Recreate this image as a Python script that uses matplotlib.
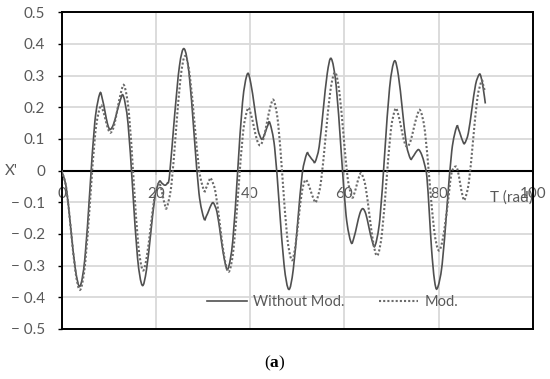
import matplotlib
matplotlib.use("Agg")
import matplotlib.pyplot as plt
from matplotlib.path import Path
from matplotlib.patches import PathPatch
from matplotlib.lines import Line2D

# "Without Mod." curve
t_plain = [0, 0.98, 1.95, 2.93, 3.9, 4.95, 6.0, 7.05, 8.1, 8.65, 9.2, 9.75, 10.3,
           11.0, 11.7, 12.4, 13.1, 14.1, 15.1, 16.1, 17.1, 18.0, 18.9, 19.8, 20.7,
           21.3, 21.9, 22.4, 22.9, 23.95, 25.0, 26.0, 27.05, 28.1, 29.15, 30.2,
           30.7, 31.2, 31.7, 32.2, 32.98, 33.75, 34.53, 35.3, 36.33, 37.35, 38.38,
           39.4, 40.15, 40.9, 41.65, 42.4, 42.85, 43.3, 43.75, 44.2, 45.2, 46.2,
           47.2, 48.2, 49.15, 50.1, 51.05, 52.0, 52.45, 52.9, 53.35, 53.8, 54.65,
           55.5, 56.35, 57.2, 58.25, 59.3, 60.35, 61.4, 62.03, 62.65, 63.28, 63.9,
           64.55, 65.2, 65.85, 66.5, 67.53, 68.55, 69.58, 70.6, 71.45, 72.3, 73.15,
           74.0, 74.45, 74.9, 75.35, 75.8, 76.4, 77.0, 77.5, 78.0, 78.5, 79.1,
           79.7, 80.73, 81.75, 82.78, 83.8, 84.23, 84.65, 85.08, 85.5, 86.28, 87.05,
           87.83, 88.6, 89.0, 89.45, 89.9]
x_plain = [0, -0.053, -0.183, -0.312, -0.365, -0.276, -0.061, 0.154, 0.243, 0.226,
           0.187, 0.147, 0.13, 0.146, 0.183, 0.22, 0.236, 0.148, -0.063, -0.274,
           -0.362, -0.314, -0.199, -0.083, -0.035, -0.04, -0.046, -0.04, -0.015,
           0.17, 0.33, 0.385, 0.306, 0.117, -0.072, -0.151, -0.144, -0.127, -0.109,
           -0.102, -0.132, -0.206, -0.28, -0.31, -0.22, -0.003, 0.215, 0.305, 0.275,
           0.203, 0.13, 0.1, 0.107, 0.125, 0.143, 0.15, 0.073, -0.113, -0.298,
           -0.375, -0.312, -0.161, -0.01, 0.053, 0.049, 0.04, 0.032, 0.028, 0.076,
           0.191, 0.306, 0.354, 0.269, 0.064, -0.141, -0.226, -0.211, -0.173,
           -0.135, -0.12, -0.137, -0.179, -0.22, -0.237, -0.152, 0.055, 0.261,
           0.346, 0.301, 0.192, 0.083, 0.038, 0.042, 0.052, 0.062, 0.066, 0.05,
           0.02, -0.02, -0.13, -0.25, -0.345, -0.372, -0.297, -0.117, 0.063, 0.138,
           0.13, 0.112, 0.094, 0.086, 0.118, 0.195, 0.272, 0.304, 0.295, 0.26, 0.212]

# "Mod." curve
t_mod = [0, 0.99, 1.98, 2.96, 3.95, 5.01, 6.08, 7.14, 8.2, 8.75, 9.3, 9.85, 10.4,
         11.13, 11.85, 12.58, 13.3, 14.28, 15.25, 16.23, 17.2, 18.05, 18.9, 19.75,
         20.6, 21.03, 21.45, 21.88, 22.3, 23.28, 24.25, 25.23, 26.2, 27.2, 28.2,
         29.2, 30.2, 30.58, 30.95, 31.33, 31.7, 32.65, 33.6, 34.55, 35.5, 36.5,
         37.5, 38.5, 39.5, 40.15, 40.8, 41.45, 42.1, 42.83, 43.55, 44.28, 45.0,
         45.95, 46.9, 47.85, 48.8, 49.53, 50.25, 50.98, 51.7, 52.28, 52.85, 53.43,
         54.0, 55.0, 56.0, 57.0, 58.0, 58.9, 59.8, 60.7, 61.6, 62.1, 62.6, 63.1,
         63.6, 64.45, 65.3, 66.15, 67.0, 67.95, 68.9, 69.85, 70.8, 71.43, 72.05,
         72.68, 73.3, 74.0, 74.7, 75.4, 76.1, 77.08, 78.05, 79.03, 80.0, 80.9,
         81.8, 82.7, 83.6, 84.08, 84.55, 85.03, 85.5, 86.4, 87.3, 88.2, 89.1,
         89.45, 89.8]
x_mod = [0, -0.055, -0.188, -0.321, -0.376, -0.291, -0.087, 0.118, 0.203, 0.191,
         0.162, 0.132, 0.12, 0.142, 0.194, 0.246, 0.268, 0.183, -0.023, -0.229,
         -0.314, -0.274, -0.177, -0.08, -0.04, -0.051, -0.079, -0.106, -0.117,
         -0.047, 0.123, 0.292, 0.362, 0.3, 0.15, 0.0, -0.062, -0.057, -0.044,
         -0.03, -0.025, -0.068, -0.172, -0.276, -0.319, -0.244, -0.062, 0.121,
         0.196, 0.179, 0.138, 0.097, 0.08, 0.101, 0.151, 0.201, 0.222, 0.148,
         -0.03, -0.208, -0.282, -0.245, -0.156, -0.067, -0.03, -0.04, -0.064,
         -0.088, -0.098, -0.038, 0.106, 0.25, 0.31, 0.252, 0.114, -0.025, -0.083,
         -0.072, -0.046, -0.02, -0.009, -0.047, -0.139, -0.23, -0.268, -0.2,
         -0.037, 0.127, 0.195, 0.177, 0.135, 0.093, 0.075, 0.092, 0.133, 0.173,
         0.19, 0.125, -0.031, -0.187, -0.252, -0.213, -0.12, -0.01, 0.013, -0.002,
         -0.04, -0.077, -0.092, -0.037, 0.096, 0.228, 0.283, 0.27, 0.25]

x_ticks = [0, 20, 40, 60, 80, 100]
y_ticks = [0.5, 0.4, 0.3, 0.2, 0.1, 0, -0.1, -0.2, -0.3, -0.4, -0.5]
y_tick_labels = ["0.5", "0.4", "0.3", "0.2", "0.1", "0",
                 "\u2212 0.1", "\u2212 0.2", "\u2212 0.3", "\u2212 0.4", "\u2212 0.5"]


def smoothed(xs, ys):
    # Excel-style smoothed line: cubic Bezier through every data point
    pts = list(zip(xs, ys))
    n = len(pts)
    verts, codes = [pts[0]], [Path.MOVETO]
    for i in range(n - 1):
        p0, p1, p2, p3 = pts[max(i - 1, 0)], pts[i], pts[i + 1], pts[min(i + 2, n - 1)]
        c1 = (p1[0] + (p2[0] - p0[0]) / 6, p1[1] + (p2[1] - p0[1]) / 6)
        c2 = (p2[0] - (p3[0] - p1[0]) / 6, p2[1] - (p3[1] - p1[1]) / 6)
        verts += [c1, c2, p2]
        codes += [Path.CURVE4] * 3
    return Path(verts, codes)


plt.rcParams['font.family'] = ['Lato', 'DejaVu Sans']
plt.rcParams['mathtext.fontset'] = 'custom'
plt.rcParams['mathtext.bf'] = 'Liberation Serif:bold'
txt = '#595959'
c_plain, c_mod = '#505050', '#6a6a6a'
ls_mod = (0, (1, 1))

fig = plt.figure(figsize=(5.5, 3.79), dpi=100)
ax = fig.add_axes([0.112, 0.132, 0.857, 0.8355])

ax.add_patch(PathPatch(smoothed(t_plain, x_plain), fill=False, edgecolor=c_plain,
                       lw=1.2, zorder=3))
ax.add_patch(PathPatch(smoothed(t_mod, x_mod), fill=False, edgecolor=c_mod,
                       lw=1.5, ls=ls_mod, zorder=3))

ax.set_xlim(0, 100)
ax.set_ylim(-0.5, 0.5)
ax.set_xticks(x_ticks)
ax.set_yticks(y_ticks)
ax.set_yticklabels(y_tick_labels)
ax.tick_params(axis='x', bottom=False, labelbottom=False)
ax.tick_params(axis='y', length=3, width=1, pad=9, labelsize=11, labelcolor=txt)
ax.grid(True, color='#d9d9d9', lw=1.3)
ax.set_axisbelow(True)
for sp in ax.spines.values():
    sp.set_linewidth(1.4)
    sp.set_color('black')

# x axis crosses at zero, labels hang just under it
ax.axhline(0, color='black', lw=1.5, zorder=2)
zx = ax.secondary_xaxis(0.5)
zx.set_xticks(x_ticks)
zx.xaxis.set_ticks_position('bottom')
for sp in zx.spines.values():
    sp.set_visible(False)
zx.tick_params(axis='x', which='both', direction='out', length=3, width=1.2, pad=9,
               labelsize=11, labelcolor=txt, bottom=True, labelbottom=True,
               top=False, labeltop=False)

ax.text(1.0, 0.414, 'T (rad)', transform=ax.transAxes, ha='right', va='center',
        fontsize=11, color=txt)
fig.text(0.02, 0.55, "X'", ha='center', va='center', fontsize=11, color=txt)

handles = [Line2D([], [], color=c_plain, lw=1.2),
           Line2D([], [], color=c_mod, lw=1.5, ls=ls_mod)]
leg = ax.legend(handles, ['Without Mod.', 'Mod.'], loc='center',
                bbox_to_anchor=(0.575, 0.086), ncol=2, frameon=False,
                handlelength=2.7, columnspacing=2.4, handletextpad=0.4, fontsize=10.5)
for t in leg.get_texts():
    t.set_color(txt)

fig.text(0.5, 0.042, r'($\mathbf{a}$)', ha='center', va='center', fontsize=12.5,
         family='Liberation Serif', color='black')

fig.savefig('out.png', dpi=100)
